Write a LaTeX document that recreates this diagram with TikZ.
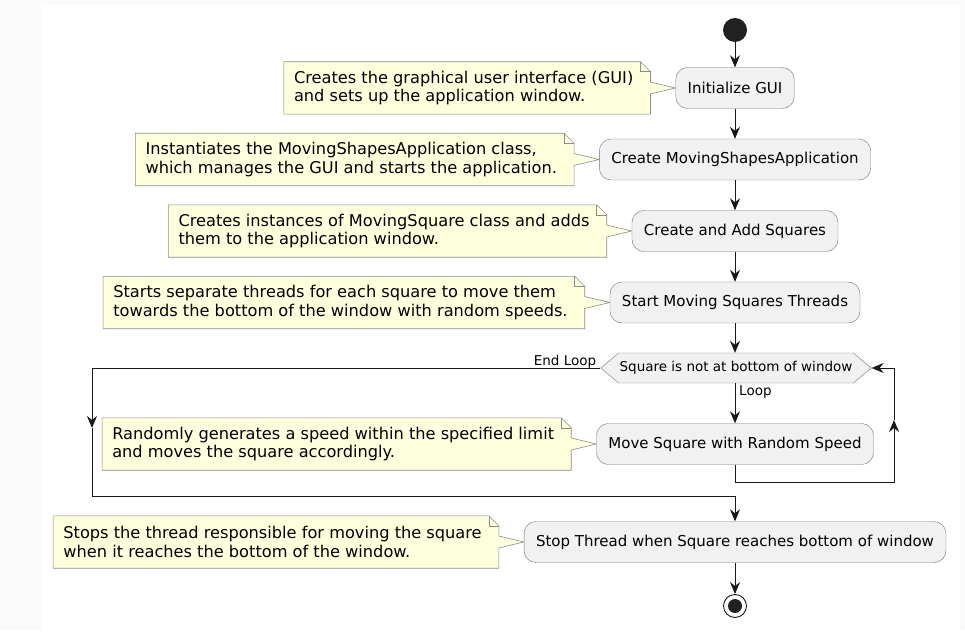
\documentclass[tikz,border=0pt]{standalone}
\usepackage{fontspec}
\setmainfont{DejaVu Sans}
\usetikzlibrary{positioning,shapes.symbols,arrows.meta,backgrounds}
\definecolor{actfill}{HTML}{F1F1F1}
\definecolor{notefill}{HTML}{FEFFDD}
\definecolor{edge}{HTML}{181818}
\tikzset{
  act/.style={draw=black!55, fill=actfill, rounded corners=12pt, minimum height=41pt,
    inner xsep=12pt, font=\fontsize{15}{17.5}\selectfont},
  cond/.style={shape=signal, signal to=west and east, signal pointer angle=80,
    draw=black!55, fill=actfill, minimum height=30pt, inner xsep=1pt,
    font=\fontsize{13.5}{16}\selectfont},
  notetext/.style={align=left, inner xsep=10pt, inner ysep=6pt, minimum height=52pt,
    font=\fontsize{16.2}{18.4}\selectfont},
  noteline/.style={draw=black!45, fill=notefill, line width=0.6pt},
  flow/.style={draw=edge, line width=0.9pt, -{Stealth[length=12pt,width=10pt,inset=4pt]}},
  lbl/.style={font=\fontsize{13.5}{16}\selectfont, inner sep=1pt}
}
% outline of a note #1 with its pointer to the activity #2
\newcommand{\noteshape}[2]{%
  \filldraw[noteline] (#1.north west) -- ([xshift=-3pt]#1.north east)
    -- ([xshift=7pt,yshift=-10pt]#1.north east) -- ([xshift=7pt,yshift=6pt]#1.east)
    -- (#2.west) -- ([xshift=7pt,yshift=-6pt]#1.east)
    -- ([xshift=7pt]#1.south east) -- (#1.south west) -- cycle;
  \draw[noteline,fill=none] ([xshift=-3pt]#1.north east) |- ([xshift=7pt,yshift=-10pt]#1.north east);}
\begin{document}
\begin{tikzpicture}[x=1pt,y=-1pt]
  \useasboundingbox (0,0) rectangle (965,631);

  \node[circle, fill=black!87, minimum size=24pt, inner sep=0pt] (start) at (735,30) {};
  \node[act] (init) at (735,88) {Initialize GUI};
  \node[act] (app) at (735,159.5) {Create MovingShapesApplication};
  \node[act] (add) at (735,231) {Create and Add Squares};
  \node[act] (thr) at (735,302.5) {Start Moving Squares Threads};
  \node[cond] (chk) at (736,368) {Square is not at bottom of window};
  \node[act] (move) at (735,444) {Move Square with Random Speed};
  \node[act] (stop) at (735,542) {Stop Thread when Square reaches bottom of window};
  \node[circle, draw=edge, line width=0.9pt, fill=white, minimum size=23pt, inner sep=0pt] (end) at (735,606) {};
  \node[circle, fill=black!87, minimum size=14pt, inner sep=0pt] (enddot) at (end) {};

  \node[notetext, left=32pt of init] (n1) {Creates the graphical user interface (GUI)\\and sets up the application window.};
  \node[notetext, left=32pt of app] (n2) {Instantiates the MovingShapesApplication class,\\which manages the GUI and starts the application.};
  \node[notetext, left=32pt of add] (n3) {Creates instances of MovingSquare class and adds\\them to the application window.};
  \node[notetext, left=32pt of thr] (n4) {Starts separate threads for each square to move them\\towards the bottom of the window with random speeds.};
  \node[notetext, left=32pt of move] (n5) {Randomly generates a speed within the specified limit\\and moves the square accordingly.};
  \node[notetext, left=32pt of stop] (n6) {Stops the thread responsible for moving the square\\when it reaches the bottom of the window.};

  \begin{scope}[on background layer]
    \fill[black!2] (0,0) rectangle (965,631);
    \fill[white] (42,5) rectangle (960,631);
    \noteshape{n1}{init}
    \noteshape{n2}{app}
    \noteshape{n3}{add}
    \noteshape{n4}{thr}
    \noteshape{n5}{move}
    \noteshape{n6}{stop}
  \end{scope}

  \draw[flow] (start) -- (init);
  \draw[flow] (init) -- (app);
  \draw[flow] (app) -- (add);
  \draw[flow] (add) -- (thr);
  \draw[flow] (thr.south) -- (thr.south |- chk.north);
  \draw[flow] (chk.south -| move.north) -- (move);
  \draw[flow] (stop) -- (end);

  % loop back
  \coordinate (rb) at (894,482);
  \coordinate (rm) at (894,420);
  \draw[flow] (move.south) |- (rb) -- (rm);
  \draw[flow] (rm) |- (chk.east);
  % loop exit
  \coordinate (lm) at (92,428);
  \coordinate (lb) at (92,496);
  \draw[flow] (chk.west) -| (lm);
  \draw[flow] (lm) -- (lb) -| (stop.north);

  \node[lbl, anchor=base east] (endlbl) at ([xshift=-3pt,yshift=3pt]chk.west) {End Loop};
  \node[lbl, anchor=north west] (looplbl) at ([xshift=3pt,yshift=-1pt]chk.south -| move.north) {Loop};
\end{tikzpicture}
\end{document}
